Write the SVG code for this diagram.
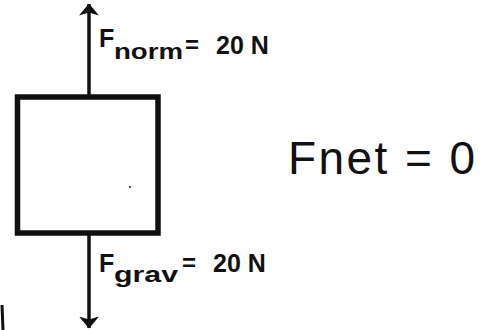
<svg xmlns="http://www.w3.org/2000/svg" width="487" height="330" viewBox="0 0 487 330">
<style>
.lbl{font-family:"Liberation Sans",Arial,sans-serif;font-weight:bold;fill:#111}
.hand{font-family:"Liberation Sans",Arial,sans-serif;fill:#111}
.ln{stroke:#111;fill:none}
</style>
<defs>
<marker id="ah" viewBox="0 0 12 20" refX="11.5" refY="10" markerWidth="12" markerHeight="20" markerUnits="userSpaceOnUse" orient="auto">
<path d="M0,0 L12,10 L0,20 L3,10 Z" fill="#111"/>
</marker>
</defs>
<rect width="487" height="330" fill="#fff"/>
<g id="connectors">
<line class="ln" x1="89" y1="95" x2="89" y2="4" stroke-width="3.5" marker-end="url(#ah)"/>
<line class="ln" x1="89" y1="235" x2="89" y2="328" stroke-width="3.5" marker-end="url(#ah)"/>
</g>
<g id="box">
<rect x="17.5" y="97" width="140.5" height="136" class="ln" stroke-width="5.5"/>
<circle cx="130" cy="187" r="1" fill="#111"/>
</g>
<g id="fnorm">
<text class="lbl" x="99" y="47" font-size="25">F</text>
<text class="lbl" x="114" y="59" font-size="22" textLength="69" lengthAdjust="spacingAndGlyphs">norm</text>
<text class="lbl" x="185" y="53" font-size="24">=</text>
<text class="lbl" x="216" y="54" font-size="25">20 N</text>
</g>
<g id="fgrav">
<text class="lbl" x="99" y="272" font-size="25">F</text>
<text class="lbl" x="114" y="282" font-size="22" textLength="64" lengthAdjust="spacingAndGlyphs">grav</text>
<text class="lbl" x="182" y="271" font-size="24">=</text>
<text class="lbl" x="213" y="272" font-size="25">20 N</text>
</g>
<g id="fnet">
<text class="hand" x="288" y="174" font-size="46" textLength="187" lengthAdjust="spacing">Fnet = 0</text>
</g>
<path d="M2,305 L3,330" class="ln" stroke-width="3"/>
</svg>
